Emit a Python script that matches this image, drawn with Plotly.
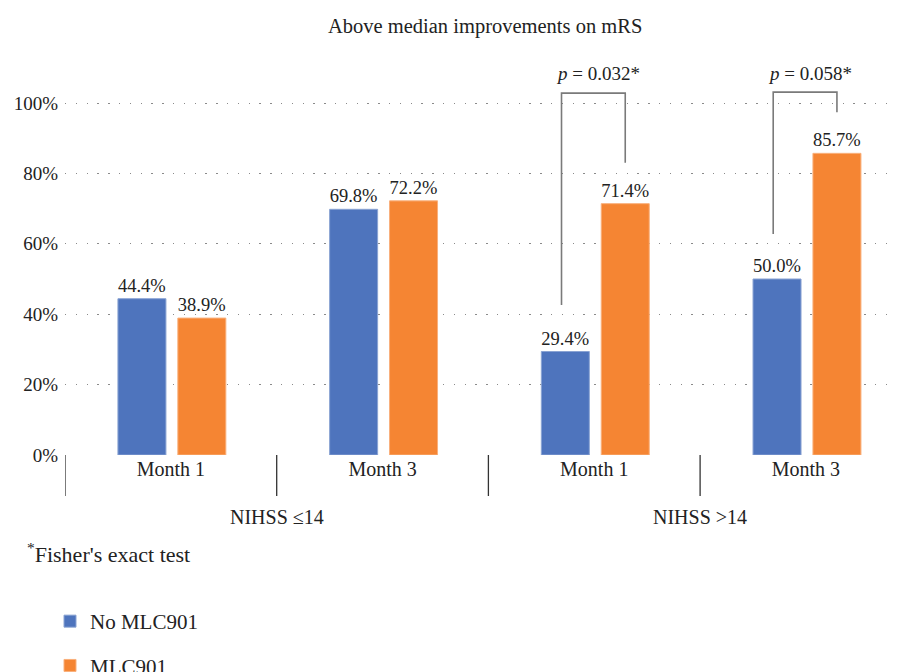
import plotly.graph_objects as go

# ---- data ----
months = ["Month 1", "Month 3", "Month 1", "Month 3"]
groups = ["NIHSS ≤14", "NIHSS >14"]
group_centers = [0.5, 2.5]
no_mlc = [0.444, 0.698, 0.294, 0.500]
mlc = [0.389, 0.722, 0.714, 0.857]
series_names = ["No MLC901", "MLC901"]
y_ticks = [0, 0.2, 0.4, 0.6, 0.8, 1.0]
y_tick_text = ["0%", "20%", "40%", "60%", "80%", "100%"]
p_labels = ["<i>p</i> = 0.032*", "<i>p</i> = 0.058*"]
p_cats = [2, 3]
# bracket: (left end value, right end value, top value)
brackets = [(0.426, 0.83, 1.028), (0.628, 0.974, 1.031)]

FONT = "Liberation Serif"
TXT = "#222222"
BLUE = "#4E74BD"
ORANGE = "#F58533"

O = 8  # page body margin offset
x = list(range(len(months)))
UNIT = 211.7
W = 48 / UNIT

fig = go.Figure()
fig.add_trace(go.Bar(
    x=x, y=no_mlc, name=series_names[0], width=W, offset=-0.25,
    marker=dict(color=BLUE, line=dict(color="#8AA3D3", width=1)),
    text=[f"{v*100:.1f}%" for v in no_mlc], textposition="outside",
    textfont=dict(family=FONT, size=19, color=TXT), cliponaxis=False,
    legendgroup="a",
))
fig.add_trace(go.Bar(
    x=x, y=mlc, name=series_names[1], width=W, offset=0.033,
    marker=dict(color=ORANGE, line=dict(color="#F9B07C", width=1)),
    text=[f"{v*100:.1f}%" for v in mlc], textposition="outside",
    textfont=dict(family=FONT, size=19, color=TXT), cliponaxis=False,
    legendgroup="b",
))

# target screen positions (reference) converted to figure coords
L = 65 - O
T = 15 - O
Y0 = 455 - O          # zero line in fig coords
H = 672
B = H - Y0
plot_h = Y0 - T
x_hi = -0.5 + (901 - L) / UNIT


def py(sy):
    """screen y -> paper y"""
    return (Y0 - (sy - O)) / plot_h


def px(sx):
    return ((sx - O) - L) / (901 - L)


shapes = []
for d in [-0.5, 0.5, 1.5, 2.5, 3.5]:
    shapes.append(dict(type="line", xref="x", yref="paper", x0=d, x1=d,
                       y0=0, y1=-41 / plot_h, line=dict(color="#333333", width=1.3)))
for c, (lv, rv, tv) in zip(p_cats, brackets):
    xl = c - 0.25 + W / 2 - 0.018
    xr = c + 0.033 + W / 2
    shapes.append(dict(type="path", xref="x", yref="y",
                       path=f"M {xl},{lv} L {xl},{tv} L {xr},{tv} L {xr},{rv}",
                       line=dict(color="#7a7a7a", width=1.6)))

annotations = []
for c, t in zip(p_cats, p_labels):
    annotations.append(dict(x=c + 0.02, y=(455 - 73) / 352, xref="x", yref="y", text=t,
                            showarrow=False, font=dict(family=FONT, size=19, color=TXT),
                            xanchor="center", yanchor="middle"))
for gc, g in zip(group_centers, groups):
    annotations.append(dict(x=gc, y=py(517), xref="x", yref="paper", text=g,
                            showarrow=False, font=dict(family=FONT, size=20, color=TXT),
                            xanchor="center", yanchor="middle"))
annotations.append(dict(x=px(485), y=py(26), xref="paper", yref="paper",
                        text="Above median improvements on mRS", showarrow=False,
                        font=dict(family=FONT, size=20.5, color=TXT), xanchor="center", yanchor="middle"))
annotations.append(dict(x=px(25), y=py(553), xref="paper", yref="paper",
                        text="<sup>*</sup>Fisher's exact test", showarrow=False,
                        font=dict(family=FONT, size=22, color=TXT), xanchor="left", yanchor="middle"))

fig.update_layout(
    width=901, height=H,
    margin=dict(l=L, r=0, t=T, b=B, autoexpand=False),
    paper_bgcolor="white", plot_bgcolor="white",
    font=dict(family=FONT, size=19, color=TXT),
    barmode="overlay",
    showlegend=True,
    legend=dict(orientation="v", x=px(50), xanchor="left",
                y=py(601), yanchor="top", tracegroupgap=14,
                font=dict(family=FONT, size=21, color=TXT), bgcolor="rgba(0,0,0,0)"),
    xaxis=dict(range=[-0.5, x_hi], tickvals=x, ticktext=months, showgrid=False,
               zeroline=False, showline=False, ticks="", tickfont=dict(family=FONT, size=20, color=TXT)),
    yaxis=dict(range=[0, plot_h / 352], tickvals=y_ticks, ticktext=y_tick_text,
               showgrid=True, gridcolor="#8a8a8a", gridwidth=1.3, griddash="1.3px,9.5px",
               zeroline=False, showline=False, ticks="", ticklabelstandoff=6,
               tickfont=dict(family=FONT, size=19, color=TXT)),
    shapes=shapes, annotations=annotations,
)

fig.write_html("out.html")
